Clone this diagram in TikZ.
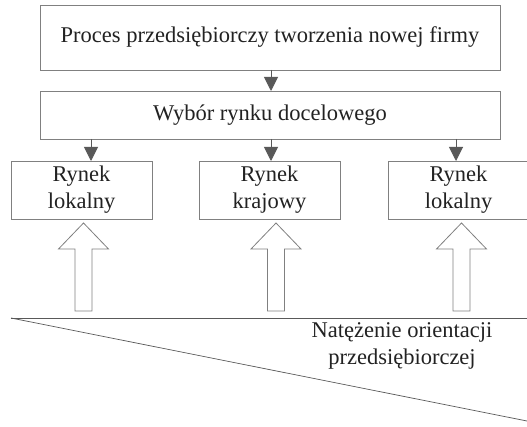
\documentclass[tikz,border=0pt]{standalone}
\usepackage{fontspec}
\setmainfont{Liberation Serif}
\usetikzlibrary{arrows.meta}
\definecolor{boxgray}{HTML}{808080}
\definecolor{arrgray}{HTML}{595959}
\definecolor{txtcol}{HTML}{222222}
\begin{document}
\begin{tikzpicture}[x=1pt,y=-1pt,
  box/.style={draw=boxgray,line width=0.9pt,fill=white,inner sep=0pt,align=center,text=txtcol,font=\fontsize{22.5}{27}\selectfont},
  conn/.style={draw=arrgray,line width=1pt,-{Triangle[length=14pt,width=14pt]}},
  bigarrow/.style={draw=boxgray,line width=0.8pt,fill=white},
  txt/.style={align=center,font=\fontsize{22.5}{27}\selectfont,text=txtcol}]
\useasboundingbox (0,0) rectangle (527,427);
\node[box,minimum width=460pt,minimum height=65pt] (top) at (270,37.5) {Proces przedsiębiorczy tworzenia nowej firmy};
\node[box,minimum width=460pt,minimum height=48pt] (sel) at (270,115) {Wybór rynku docelowego};
\node[box,minimum width=141pt,minimum height=58pt] (l1) at (81.5,190) {Rynek\\lokalny};
\node[box,minimum width=141pt,minimum height=58pt] (kr) at (269.5,190) {Rynek\\krajowy};
\node[box,minimum width=141pt,minimum height=58pt] (l2) at (458.5,190) {Rynek\\lokalny};
\coordinate (a1) at (271,70);
\coordinate (b1) at (271,91);
\draw[conn] (a1) -- (b1);
\coordinate (s1) at (91,139);
\coordinate (s2) at (271,139);
\coordinate (s3) at (456,139);
\coordinate (t1) at (91,161);
\coordinate (t2) at (271,161);
\coordinate (t3) at (456,161);
\draw[conn] (s1) -- (t1);
\draw[conn] (s2) -- (t2);
\draw[conn] (s3) -- (t3);
\foreach \cx/\nm in {83.5/u1,276/u2,461.5/u3}{
  \draw[bigarrow] (\cx,223) coordinate (\nm) -- (\cx+25,249) -- (\cx+8.5,249) -- (\cx+8.5,311) -- (\cx-8.5,311) -- (\cx-8.5,249) -- (\cx-25,249) -- cycle;
}
\coordinate (h0) at (11,318);
\coordinate (h1) at (527,318);
\coordinate (d1) at (527,421);
\draw[draw=arrgray,line width=0.9pt] (h0) -- (h1);
\draw[draw=arrgray,line width=0.7pt] (h0) -- (d1);
\node[txt] (lab) at (402,346) {Natężenie orientacji\\przedsiębiorczej};
\end{tikzpicture}
\end{document}
